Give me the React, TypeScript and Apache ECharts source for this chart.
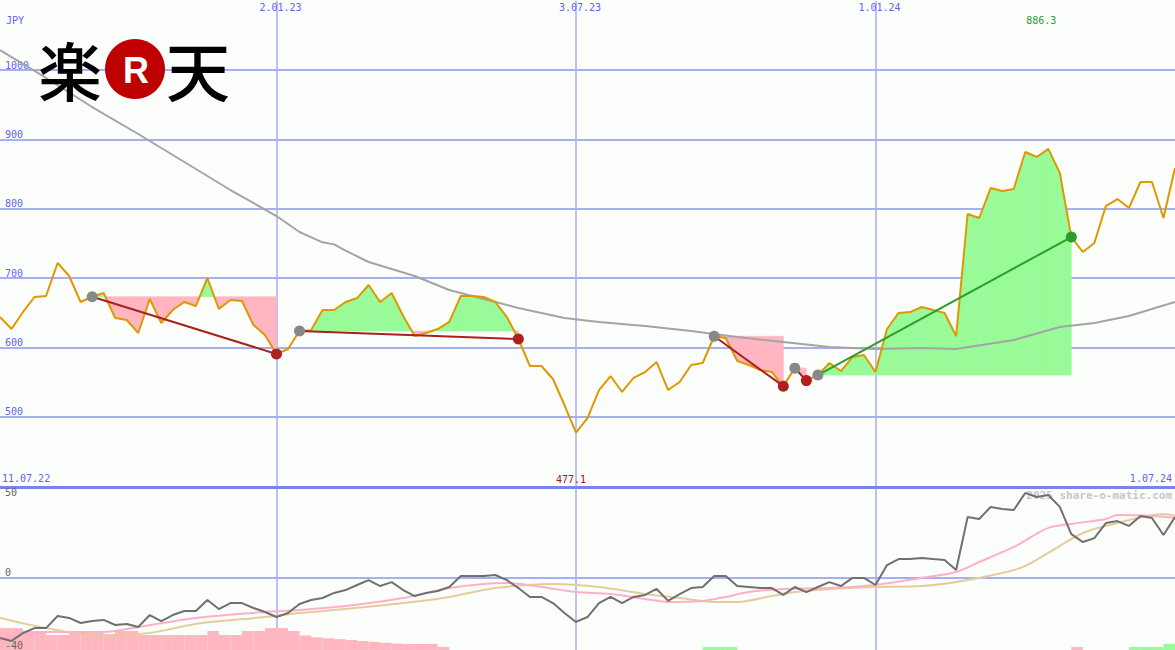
import React, { useEffect, useRef } from "react";
import * as echarts from "echarts";

// ---------- categories ----------
const START_UTC = Date.UTC(2022, 6, 18);
const WEEK_MS = 7 * 24 * 3600 * 1000;
const N = 103;
const DATES: string[] = Array.from({ length: N }, (_, i) => {
  const d = new Date(START_UTC + i * WEEK_MS);
  return `${d.getUTCDate()}.${String(d.getUTCMonth() + 1).padStart(2, "0")}.${String(d.getUTCFullYear()).slice(2)}`;
});
const BAR_SLOTS: string[] = DATES.slice(0, N - 1);
const VERTICAL_DATES = ["2.01.23", "3.07.23", "1.01.24"];
const RANGE_LABELS = ["11.07.22", "1.07.24"];
const PRICE_TICKS = [500, 600, 700, 800, 900, 1000];
const LOWER_TICKS_ABOVE = [0, -40];
const LOWER_TICKS_BELOW = [50];

// ---------- series values ----------
const PRICE = [
  643.7, 626.4, 651, 672.6, 674, 721.6, 702.9, 665.4, 673, 678.4,
  642.3, 639.4, 620.7, 669.7, 635.1, 653.8, 665.4, 659.6, 700, 655.3,
  668.3, 666.8, 632.2, 617.8, 590.4, 597.6, 623.5, 624.5, 653.8, 653.8,
  665.4, 671.1, 689.9, 665.4, 678.4, 645.2, 616.3, 620.7, 626.4, 636.7,
  674, 674, 672.6, 665.4, 643.7, 612, 573.1, 573.1, 554.3, 516.8,
  477.1, 498, 538.4, 558.6, 535.6, 555.8, 564.4, 578.8, 538.4, 550,
  574.5, 577.4, 616, 613.5, 580.3, 574.5, 567.3, 564.4, 544, 570,
  552, 560, 577.4, 565.8, 586, 588.9, 564.4, 626.4, 649.5, 650.9,
  658.2, 653.8, 649.5, 616.3, 792.3, 786.5, 829.8, 825.5, 828.4, 881.7,
  874.5, 886.3, 851.4, 759, 737.5, 750.5, 803.8, 813.9, 800.9, 838.5,
  838.5, 786.5, 858.6,
];

const MA40 = [
  [0, 1028.8], [4, 988.5], [8, 946.6], [12, 907.7], [16, 867.3], [20, 826.9],
  [24, 789.4], [26, 766.3], [28, 751.5], [29, 748.5], [30, 739.5], [32, 723.1],
  [36, 702.9], [39, 682.7], [42, 669.7], [45, 656.7], [49, 642.3], [52, 636.5],
  [56, 630.8], [60, 623.5], [64, 614.9], [68, 607.7], [72, 600.5], [76, 597.6],
  [80, 599], [83, 597.6], [88, 610.6], [92, 629.3], [95, 635.1], [98, 645.2],
  [102, 665.4],
];

// trend segments (pivot start -> pivot end, reference level)
const SEGMENTS = [
  { start: 8, end: 24, level: 673, dir: "down" },
  { start: 26, end: 45, level: 623.5, dir: "down" },
  { start: 62, end: 68, level: 616, dir: "down" },
  { start: 69, end: 70, level: 570, dir: "down" },
  { start: 71, end: 93, level: 560, dir: "up" },
];

const MOMENTUM = [
  -33.4, -35.0, -30.6, -27.9, -27.9, -21.2, -22.3, -25.1, -24.0, -23.4,
  -26.2, -25.6, -27.3, -20.7, -24.0, -20.7, -18.5, -18.5, -12.4, -17.4,
  -14.1, -14.1, -16.8, -19.0, -21.8, -19.6, -14.6, -12.4, -11.3, -8.5,
  -6.9, -4.1, -1.4, -4.7, -2.5, -6.9, -10.2, -8.5, -7.4, -5.2,
  0.9, 0.9, 0.9, 1.4, -1.4, -5.8, -10.7, -10.7, -14.1, -19.6,
  -24.5, -21.8, -14.1, -10.7, -14.1, -10.7, -9.6, -6.3, -12.9, -9.1,
  -5.8, -5.2, 0.9, 0.9, -4.7, -5.2, -5.8, -5.8, -9.6, -5.2,
  -8.0, -5.2, -2.5, -4.7, -0.2, -0.2, -4.1, 6.9, 10.2, 10.2,
  10.8, 10.2, 9.7, 4.2, 33.4, 32.3, 39.0, 37.9, 37.3, 46.7,
  44.5, 45.6, 39.0, 24.0, 19.6, 21.8, 30.1, 31.2, 28.5, 34.0,
  32.9, 23.5, 33.4,
];

const PINK_AVG = [
  [0, -34.5], [4, -30.1], [9, -30.1], [12, -27.3], [17, -22.3], [23, -19.0],
  [26, -17.9], [30, -15.7], [35, -11.3], [39, -5.8], [44, -3.0], [47, -5.2],
  [50, -8.0], [53, -9.1], [56, -11.8], [58, -13.5], [61, -12.9], [63, -10.7],
  [65, -8.0], [68, -6.3], [72, -5.8], [76, -4.1], [80, -0.2], [83, 3.1],
  [85, 8.6], [88, 16.9], [91, 27.4], [93, 29.6], [96, 32.3], [97, 34.5],
  [100, 34.0], [102, 33.0],
];

const TAN_AVG = [
  [0, -22.3], [4, -27.9], [9, -32.3], [13, -30.6], [17, -25.6], [23, -21.8],
  [26, -19.6], [30, -17.4], [35, -14.1], [39, -10.7], [43, -5.8], [48, -3.6],
  [52, -5.2], [56, -9.1], [59, -11.3], [62, -13.5], [64, -13.5], [67, -10.2],
  [69, -8.0], [72, -6.3], [76, -5.2], [80, -4.7], [83, -2.5], [87, 2.5],
  [89, 6.4], [91, 13.6], [94, 24.6], [97, 30.1], [101, 35.1], [102, 34.0],
];

const PINK_BARS = [
  [0, 12.1], [1, 12.1], [2, 10.5], [3, 10.5], [4, 8.3], [5, 8.3], [6, 10.5],
  [7, 9.4], [8, 9.4], [9, 8.8], [10, 10.5], [11, 10.5], [12, 8.3], [13, 8.3],
  [14, 8.3], [15, 8.3], [16, 8.3], [17, 8.3], [18, 10.5], [19, 8.3], [20, 8.3],
  [21, 10.5], [22, 10.5], [23, 12.1], [24, 12.1], [25, 10.5], [26, 8], [27, 7],
  [28, 6.5], [29, 6], [30, 5.5], [31, 5], [32, 4.5], [33, 4], [34, 3.5],
  [35, 3.3], [36, 3.3], [37, 3.3], [38, 1.7], [93, 1.7],
];
const GREEN_BARS = [
  [61, 1.7], [62, 1.7], [63, 1.7], [98, 1.7], [99, 1.7], [100, 1.7], [101, 3.3],
];

// ---------- styles ----------
const BG = "#fcfefc";
const GRID_BLUE = "#a6aef4";
const SEP_BLUE = "#7884ec";
const LABEL_BLUE = "#5a66f0";
const ORANGE = "#e09800";
const MA_GRAY = "#a4a4a4";
const PINK = "#ffb6c1";
const GREEN = "#98fb98";
const DARK_RED = "#a82020";
const DOT_RED = "#b02020";
const TREND_GREEN = "#2a9d2a";
const DOT_GRAY = "#888888";
const MONO = '"DejaVu Sans Mono", monospace';

const isVertical = (_i: number, v: string) => VERTICAL_DATES.includes(v);

function buildOption() {
  const iMax = PRICE.indexOf(Math.max(...PRICE));
  const iMin = PRICE.indexOf(Math.min(...PRICE));

  const trendSeries = SEGMENTS.map((s) => ({
    type: "line",
    xAxisIndex: 0,
    yAxisIndex: 0,
    data: [
      [s.start, PRICE[s.start]],
      [s.end, PRICE[s.end]],
    ],
    showSymbol: false,
    lineStyle: { color: s.dir === "up" ? TREND_GREEN : DARK_RED, width: 2 },
    z: 4,
    silent: true,
  }));

  const dotSeries = [
    { pts: SEGMENTS.map((s) => [s.start, PRICE[s.start]]), color: DOT_GRAY },
    { pts: SEGMENTS.filter((s) => s.dir === "down").map((s) => [s.end, PRICE[s.end]]), color: DOT_RED },
    { pts: SEGMENTS.filter((s) => s.dir === "up").map((s) => [s.end, PRICE[s.end]]), color: TREND_GREEN },
  ].map((d) => ({
    type: "scatter",
    xAxisIndex: 0,
    yAxisIndex: 0,
    data: d.pts,
    symbolSize: 11,
    itemStyle: { color: d.color, opacity: 1 },
    z: 5,
    silent: true,
  }));

  const poly = (points: number[][], fill: string) => ({
    type: "polygon",
    shape: { points },
    style: { fill, stroke: fill, lineWidth: 0.6 },
  });

  const cjkText = (text: string, x: number) => ({
    type: "text",
    x,
    y: 68,
    z: 100,
    style: {
      text,
      fill: "#000000",
      font: '500 64px "Noto Sans CJK JP"',
      align: "center",
      verticalAlign: "middle",
      textAlign: "center",
      textVerticalAlign: "middle",
    },
  });

  return {
    animation: false,
    backgroundColor: BG,
    grid: [
      { left: 0, right: -2, top: 0.67, height: 485.33 },
      { left: 0, right: -2, top: 487, bottom: 0 },
    ],
    xAxis: [
      {
        type: "category",
        gridIndex: 0,
        data: DATES,
        boundaryGap: false,
        position: "top",
        axisLine: { show: false },
        axisTick: { show: false },
        axisLabel: {
          inside: true,
          margin: 2,
          interval: isVertical,
          color: LABEL_BLUE,
          fontFamily: MONO,
          fontSize: 10,
          padding: [0, 0, 0, 8],
        },
        splitLine: { show: true, interval: isVertical, lineStyle: { color: GRID_BLUE, width: 1.5 } },
      },
      {
        type: "category",
        gridIndex: 1,
        data: DATES,
        boundaryGap: false,
        position: "top",
        axisLine: { show: true, onZero: false, lineStyle: { color: SEP_BLUE, width: 3 } },
        axisTick: { show: false },
        axisLabel: { show: false },
        splitLine: { show: true, interval: isVertical, lineStyle: { color: GRID_BLUE, width: 1.5 } },
      },
      {
        type: "category",
        gridIndex: 1,
        data: BAR_SLOTS,
        boundaryGap: true,
        position: "bottom",
        show: false,
      },
    ],
    yAxis: [
      {
        type: "value",
        gridIndex: 0,
        min: 400,
        max: 1100,
        interval: 100,
        position: "left",
        axisLine: { show: false },
        axisTick: { show: false },
        axisLabel: {
          inside: true,
          margin: 5,
          verticalAlign: "bottom",
          color: LABEL_BLUE,
          fontFamily: MONO,
          fontSize: 10,
          formatter: (v: number) => (PRICE_TICKS.includes(v) ? String(v) : ""),
        },
        splitLine: {
          show: true,
          showMinLine: false,
          showMaxLine: false,
          lineStyle: { color: GRID_BLUE, width: 2 },
        },
      },
      {
        type: "value",
        gridIndex: 1,
        min: -40,
        max: 50,
        interval: 10,
        position: "left",
        z: 10,
        axisLine: { show: false },
        axisTick: { show: false },
        splitLine: { show: false },
        axisLabel: {
          inside: true,
          margin: 5,
          verticalAlign: "bottom",
          color: "#666666",
          fontFamily: MONO,
          fontSize: 10,
          showMinLabel: true,
          formatter: (v: number) => (LOWER_TICKS_ABOVE.includes(v) ? String(v) : ""),
        },
      },
      {
        type: "value",
        gridIndex: 1,
        min: -40,
        max: 50,
        interval: 10,
        position: "left",
        z: 10,
        axisLine: { show: false },
        axisTick: { show: false },
        splitLine: { show: false },
        axisLabel: {
          inside: true,
          margin: 5,
          verticalAlign: "top",
          color: "#666666",
          fontFamily: MONO,
          fontSize: 10,
          showMaxLabel: true,
          formatter: (v: number) => (LOWER_TICKS_BELOW.includes(v) ? String(v) : ""),
        },
      },
      {
        type: "value",
        gridIndex: 1,
        min: 0,
        max: 90,
        show: false,
      },
    ],
    graphic: [
      {
        type: "text",
        left: 6,
        top: 15,
        z: 10,
        style: { text: "JPY", fill: LABEL_BLUE, font: `10px ${MONO}` },
      },
      {
        type: "text",
        left: 2,
        top: 473,
        z: 10,
        style: { text: RANGE_LABELS[0], fill: LABEL_BLUE, font: `10px ${MONO}` },
      },
      {
        type: "text",
        right: 3,
        top: 473,
        z: 10,
        style: { text: RANGE_LABELS[1], fill: LABEL_BLUE, font: `10px ${MONO}` },
      },
      {
        type: "text",
        right: 3,
        top: 490,
        z: 0,
        style: { text: "2025 share-o-matic.com", fill: "#c8c8c8", font: `bold 11px ${MONO}` },
      },
      {
        type: "group",
        z: 100,
        children: [
          cjkText("楽", 70),
          {
            type: "circle",
            z: 100,
            shape: { cx: 135, cy: 69, r: 30 },
            style: { fill: "#bf0000" },
          },
          {
            type: "text",
            x: 136,
            y: 70,
            z: 101,
            style: {
              text: "R",
              fill: "#ffffff",
              font: 'bold 36px "Liberation Sans", Arial, sans-serif',
              align: "center",
              verticalAlign: "middle",
              textAlign: "center",
              textVerticalAlign: "middle",
            },
          },
          cjkText("天", 198),
        ],
      },
    ],
    series: [
      {
        type: "custom",
        xAxisIndex: 0,
        yAxisIndex: 0,
        data: SEGMENTS.map((s) => [s.start, s.level, s.end]),
        encode: { x: 0, y: 1 },
        z: 1,
        silent: true,
        renderItem: (params: any, api: any) => {
          const s = SEGMENTS[params.dataIndex];
          const children: any[] = [];
          for (let i = s.start; i < s.end; i++) {
            const a = PRICE[i] - s.level;
            const b = PRICE[i + 1] - s.level;
            const pA = api.coord([i, PRICE[i]]);
            const pB = api.coord([i + 1, PRICE[i + 1]]);
            const lA = api.coord([i, s.level]);
            const lB = api.coord([i + 1, s.level]);
            if ((a >= 0 && b >= 0) || (a <= 0 && b <= 0)) {
              children.push(poly([lA, pA, pB, lB], a + b >= 0 ? GREEN : PINK));
            } else {
              const t = a / (a - b);
              const cross = [lA[0] + t * (lB[0] - lA[0]), lA[1]];
              children.push(poly([lA, pA, cross], a > 0 ? GREEN : PINK));
              children.push(poly([cross, pB, lB], b > 0 ? GREEN : PINK));
            }
          }
          return { type: "group", children };
        },
      },
      {
        type: "line",
        xAxisIndex: 0,
        yAxisIndex: 0,
        data: MA40,
        showSymbol: false,
        lineStyle: { color: MA_GRAY, width: 2 },
        z: 2,
        silent: true,
      },
      {
        type: "line",
        xAxisIndex: 0,
        yAxisIndex: 0,
        data: PRICE,
        showSymbol: false,
        lineStyle: { color: ORANGE, width: 2 },
        z: 3,
        silent: true,
        markPoint: {
          symbol: "rect",
          symbolSize: 1,
          silent: true,
          itemStyle: { color: "rgba(0,0,0,0)" },
          data: [
            {
              coord: [iMax, 1070.7],
              value: PRICE[iMax],
              label: {
                show: true,
                position: "inside",
                offset: [-7, 0],
                color: TREND_GREEN,
                fontFamily: MONO,
                fontSize: 10,
                formatter: (p: any) => Number(p.value).toFixed(1),
              },
            },
            {
              coord: [iMin, 410],
              value: PRICE[iMin],
              label: {
                show: true,
                position: "inside",
                offset: [-5, 0],
                color: "#a01818",
                fontFamily: MONO,
                fontSize: 10,
                formatter: (p: any) => Number(p.value).toFixed(1),
              },
            },
          ],
        },
      },
      ...trendSeries,
      ...dotSeries,
      {
        type: "bar",
        xAxisIndex: 2,
        yAxisIndex: 3,
        data: PINK_BARS,
        barCategoryGap: "0%",
        barGap: "-100%",
        itemStyle: { color: PINK },
        z: 1,
        silent: true,
      },
      {
        type: "bar",
        xAxisIndex: 2,
        yAxisIndex: 3,
        data: GREEN_BARS,
        barCategoryGap: "0%",
        barGap: "-100%",
        itemStyle: { color: GREEN },
        z: 1,
        silent: true,
      },
      {
        type: "line",
        xAxisIndex: 1,
        yAxisIndex: 1,
        data: TAN_AVG,
        showSymbol: false,
        smooth: 0.3,
        lineStyle: { color: "#e5cc9c", width: 2 },
        z: 2,
        silent: true,
      },
      {
        type: "line",
        xAxisIndex: 1,
        yAxisIndex: 1,
        data: PINK_AVG,
        showSymbol: false,
        smooth: 0.3,
        lineStyle: { color: "#ffb0c8", width: 2 },
        z: 3,
        silent: true,
      },
      {
        type: "line",
        xAxisIndex: 1,
        yAxisIndex: 1,
        data: MOMENTUM,
        showSymbol: false,
        lineStyle: { color: "#707070", width: 2 },
        z: 4,
        silent: true,
        markLine: {
          silent: true,
          symbol: "none",
          label: { show: false },
          lineStyle: { color: GRID_BLUE, width: 2, type: "solid" },
          data: [{ yAxis: 0 }],
          z: 1,
        },
      },
    ],
  };
}

export default function App() {
  const ref = useRef<HTMLDivElement>(null);
  useEffect(() => {
    if (!ref.current) return;
    const chart = echarts.init(ref.current, undefined, { renderer: "svg" });
    chart.setOption(buildOption() as any);
    return () => chart.dispose();
  }, []);
  return (
    <div
      ref={ref}
      style={{ position: "fixed", left: 0, top: 0, width: 1175, height: 650, background: BG }}
    />
  );
}
